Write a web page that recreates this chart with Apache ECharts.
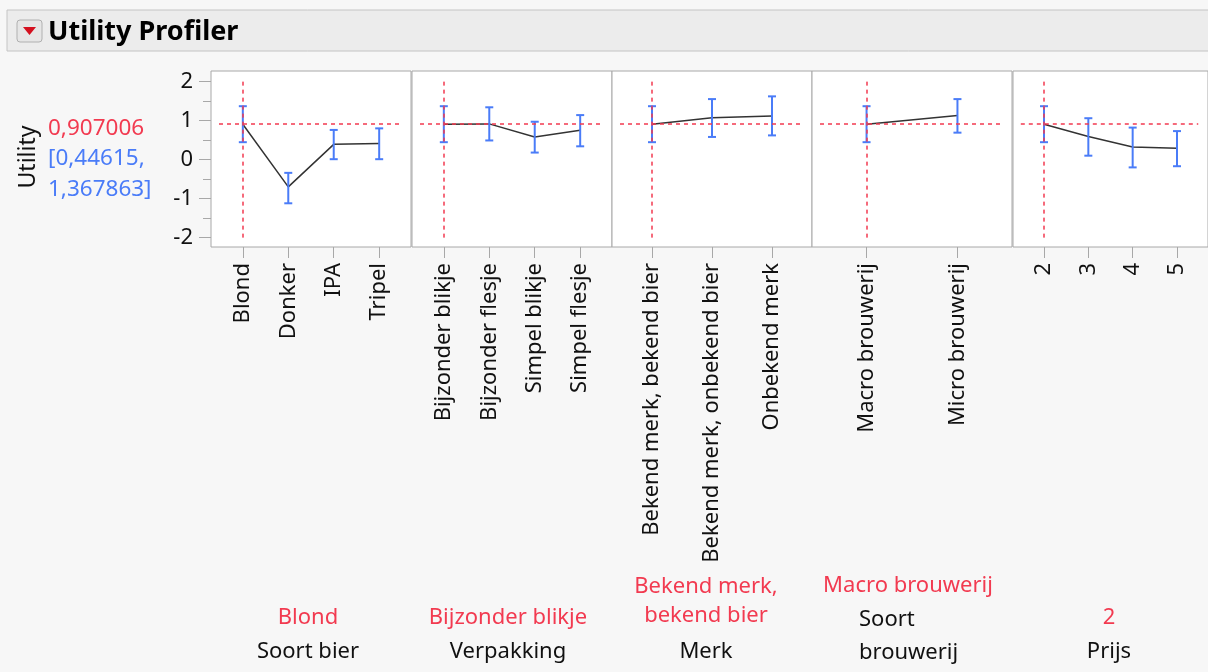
<!DOCTYPE html>
<html>
<head>
<meta charset="utf-8">
<script src="https://cdn.jsdelivr.net/npm/echarts@6/dist/echarts.min.js"></script>
<style>
html,body{margin:0;padding:0;background:#f7f7f7;}
#chart{width:1208px;height:672px;}
</style>
</head>
<body>
<div id="chart"></div>
<script>
// ---- data ----
const soortBier = ['Blond', 'Donker', 'IPA', 'Tripel'];
const soortBierU = [0.907, -0.70, 0.39, 0.41];
const soortBierLo = [0.446, -1.12, 0.01, 0.01];
const soortBierHi = [1.368, -0.34, 0.76, 0.80];

const verpakking = ['Bijzonder blikje', 'Bijzonder flesje', 'Simpel blikje', 'Simpel flesje'];
const verpakkingU = [0.907, 0.915, 0.58, 0.75];
const verpakkingLo = [0.446, 0.49, 0.18, 0.34];
const verpakkingHi = [1.368, 1.34, 0.97, 1.14];

const merk = ['Bekend merk, bekend bier', 'Bekend merk, onbekend bier', 'Onbekend merk'];
const merkU = [0.907, 1.07, 1.12];
const merkLo = [0.446, 0.58, 0.62];
const merkHi = [1.368, 1.55, 1.62];

const brouwerij = ['Macro brouwerij', 'Micro brouwerij'];
const brouwerijU = [0.907, 1.13];
const brouwerijLo = [0.446, 0.69];
const brouwerijHi = [1.368, 1.55];

const prijs = ['2', '3', '4', '5'];
const prijsU = [0.907, 0.59, 0.32, 0.29];
const prijsLo = [0.446, 0.10, -0.20, -0.17];
const prijsHi = [1.368, 1.06, 0.82, 0.73];

const factorNames = ['Soort bier', 'Verpakking', 'Merk', 'Soort\nbrouwerij', 'Prijs'];
const currentLabels = ['Blond', 'Bijzonder blikje', 'Bekend merk,\nbekend bier', 'Macro brouwerij', '2'];
const yTicks = [-2, -1, 0, 1, 2];
const yMinorTicks = [-1.5, -0.5, 0.5, 1.5];
const currentValue = '0,907006';
const ciText = '[0,44615,\n1,367863]';

// ---- chart ----
const FONT = 'Noto Sans';
const FS = 22;
const RED = '#f23a50';
const BLUE = '#4a7cf8';
const panels = [
  {cats: soortBier, u: soortBierU, lo: soortBierLo, hi: soortBierHi},
  {cats: verpakking, u: verpakkingU, lo: verpakkingLo, hi: verpakkingHi},
  {cats: merk, u: merkU, lo: merkLo, hi: merkHi},
  {cats: brouwerij, u: brouwerijU, lo: brouwerijLo, hi: brouwerijHi},
  {cats: prijs, u: prijsU, lo: prijsLo, hi: prijsHi}
];
const gridLefts = [211, 412, 612, 812, 1013];
const PANEL_W = 200;
const pads = {2: 0.6, 3: 0.667, 4: 0.7};
const yMin = -2.24, yMax = 2.27;

const grids = [], xAxes = [], yAxes = [], series = [];
panels.forEach((p, i) => {
  const n = p.cats.length;
  const idx = p.cats.map((c, k) => k);
  const xMin = -pads[n], xMax = n - 1 + pads[n];
  const unitsPerPx = (xMax - xMin) / PANEL_W;
  grids.push({left: gridLefts[i], top: 71, width: PANEL_W, height: 176, show: true,
    backgroundColor: '#ffffff', borderColor: '#a8a8a8', borderWidth: 1});
  xAxes.push({
    gridIndex: i, type: 'value', min: xMin, max: xMax, position: 'bottom',
    axisLine: {show: false, onZero: false}, splitLine: {show: false},
    axisTick: {show: true, customValues: idx, length: 11, lineStyle: {color: '#a8a8a8'}},
    axisLabel: {customValues: idx, rotate: 90, margin: 16, fontSize: FS, color: '#111', fontFamily: FONT,
      formatter: v => p.cats[Math.round(v)]}
  });
  yAxes.push({
    gridIndex: i, type: 'value', min: yMin, max: yMax, show: i === 0, position: 'left',
    axisLine: {show: false, onZero: false}, splitLine: {show: false},
    axisTick: {show: true, customValues: yTicks, length: 12, lineStyle: {color: '#a8a8a8'}},
    axisLabel: {customValues: yTicks, margin: 18, fontSize: FS, color: '#111', fontFamily: FONT}
  });
  series.push({
    type: 'line', xAxisIndex: i, yAxisIndex: i, showSymbol: false, silent: true,
    data: p.u.map((v, k) => [k, v]),
    lineStyle: {color: '#333', width: 1.5}, z: 3,
    markLine: {
      silent: true, symbol: 'none', label: {show: false},
      lineStyle: {color: RED, type: [4, 4], width: 1.5},
      data: [
        [{coord: [xMin + 8 * unitsPerPx, p.u[0]]}, {coord: [xMax - 10 * unitsPerPx, p.u[0]]}],
        [{coord: [0, -2]}, {coord: [0, 2]}]
      ]
    }
  });
  series.push({
    type: 'custom', xAxisIndex: i, yAxisIndex: i, silent: true, z: 4,
    data: p.u.map((v, k) => [k, p.lo[k], p.hi[k]]),
    encode: {x: 0, y: [1, 2]},
    renderItem: (params, api) => {
      const x = api.value(0);
      const top = api.coord([x, api.value(2)]);
      const bot = api.coord([x, api.value(1)]);
      const w = 4;
      const st = {stroke: BLUE, lineWidth: 2};
      return {type: 'group', children: [
        {type: 'line', shape: {x1: top[0], y1: top[1], x2: bot[0], y2: bot[1]}, style: st},
        {type: 'line', shape: {x1: top[0] - w, y1: top[1], x2: top[0] + w, y2: top[1]}, style: st},
        {type: 'line', shape: {x1: bot[0] - w, y1: bot[1], x2: bot[0] + w, y2: bot[1]}, style: st}
      ]};
    }
  });
});
// minor ticks on the first panel
yAxes.push({
  gridIndex: 0, type: 'value', min: yMin, max: yMax, position: 'left',
  axisLine: {show: false, onZero: false}, splitLine: {show: false},
  axisTick: {show: true, customValues: yMinorTicks, length: 8, lineStyle: {color: '#a8a8a8'}},
  axisLabel: {show: false}
});

const graphics = [
  {type: 'rect', shape: {x: 7, y: 10, width: 1220, height: 41}, style: {fill: '#ececec', stroke: '#c4c4c4', lineWidth: 1}, silent: true},
  {type: 'rect', shape: {x: 17, y: 20, width: 25, height: 22, r: 3}, style: {fill: '#e6e6e6', stroke: '#b0b0b0', lineWidth: 1}, silent: true},
  {type: 'polygon', shape: {points: [[23, 27], [36, 27], [29.5, 35]]}, style: {fill: '#d4101f'}, silent: true},
  {type: 'text', x: 48, y: 32, style: {text: 'Utility Profiler', font: 'bold 27px ' + FONT, fill: '#000', textVerticalAlign: 'middle'}, silent: true},
  {type: 'text', x: 28, y: 157, rotation: Math.PI / 2, style: {text: 'Utility', font: '23px ' + FONT, fill: '#111', textAlign: 'center', textVerticalAlign: 'middle'}, silent: true},
  {type: 'text', x: 48, y: 129, style: {text: currentValue, font: '22.5px ' + FONT, fill: RED, textVerticalAlign: 'middle'}, silent: true},
  {type: 'text', x: 48, y: 143, style: {text: ciText, font: '22.5px ' + FONT, fill: BLUE, lineHeight: 31, textVerticalAlign: 'top'}, silent: true}
];
const bottomX = [308, 508, 706, 859, 1109];
const redX = [308, 508, 706, 908, 1109];
const redY = [618, 618, 601, 586, 618];
const blackY = [652, 652, 652, 636, 652];
currentLabels.forEach((t, i) => {
  graphics.push({type: 'text', x: redX[i], y: redY[i],
    style: {text: t, font: FS + 'px ' + FONT, fill: RED, textAlign: 'center', textVerticalAlign: 'middle', lineHeight: 29}, silent: true});
});
factorNames.forEach((t, i) => {
  graphics.push({type: 'text', x: bottomX[i], y: blackY[i],
    style: {text: t, font: FS + 'px ' + FONT, fill: '#111', textAlign: i === 3 ? 'left' : 'center', textVerticalAlign: 'middle', lineHeight: 33}, silent: true});
});

const chart = echarts.init(document.getElementById('chart'), null, {renderer: 'canvas'});
chart.setOption({
  backgroundColor: '#f7f7f7',
  animation: false,
  grid: grids,
  xAxis: xAxes,
  yAxis: yAxes,
  series: series,
  graphic: graphics
});
</script>
</body>
</html>
